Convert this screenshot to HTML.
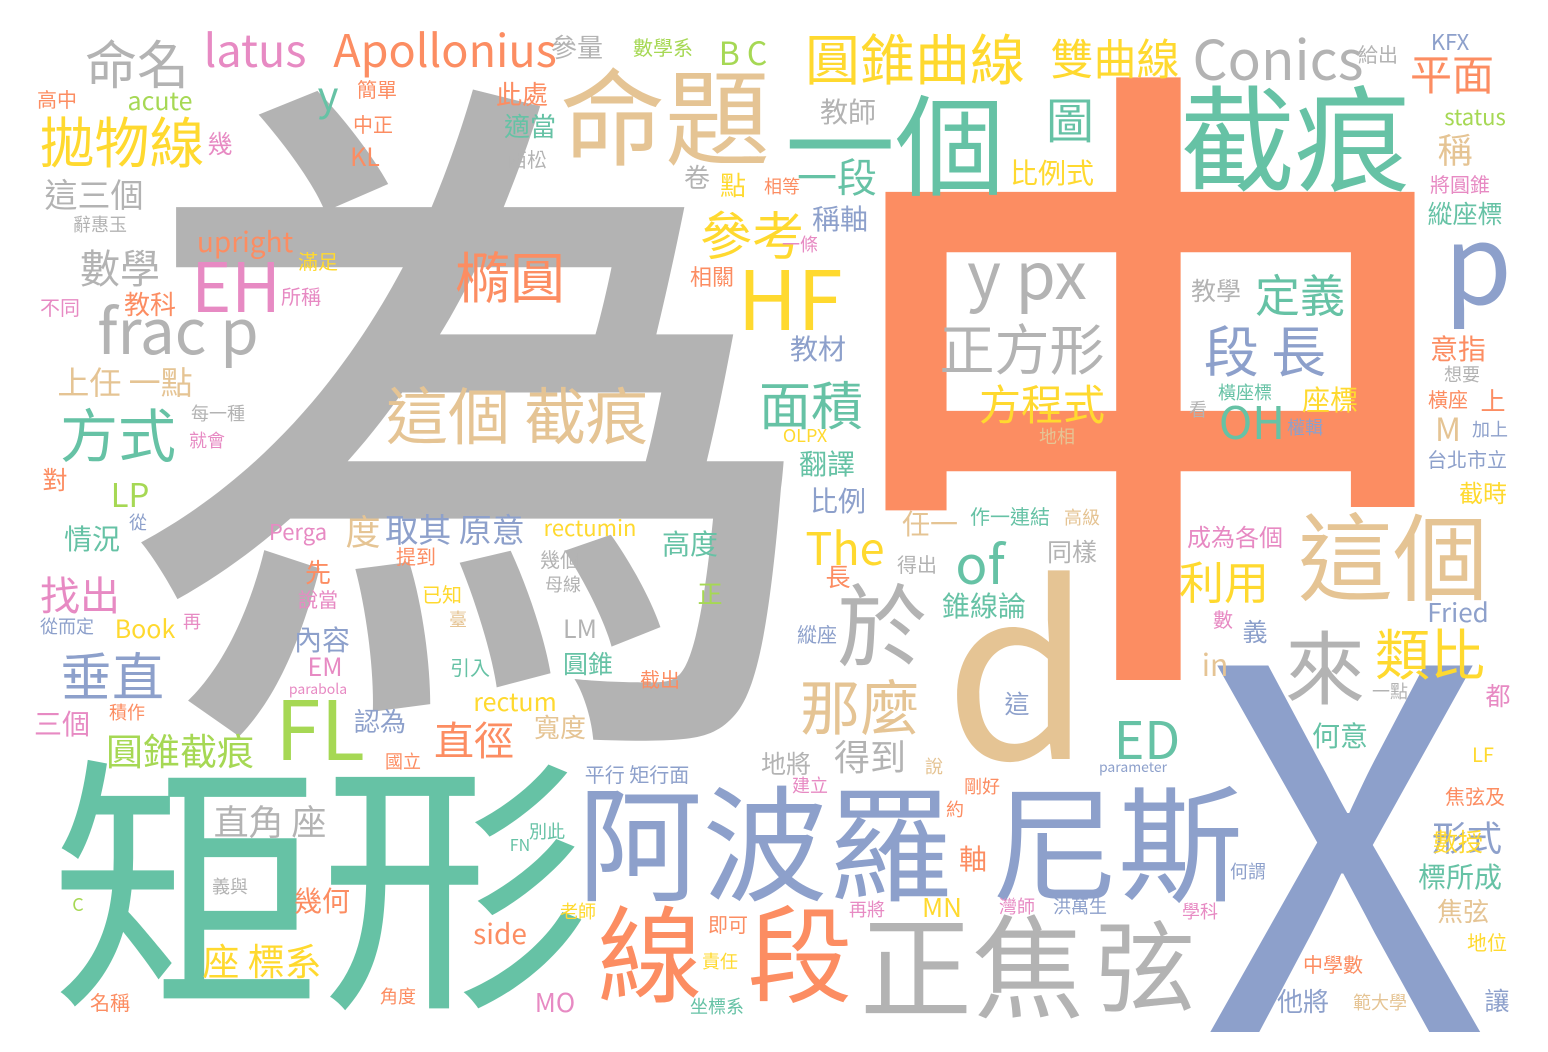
<!DOCTYPE html>
<html>
<head>
<meta charset="utf-8">
<style>
  html,body{margin:0;padding:0;background:#fff;}
  #cloud{position:relative;width:1548px;height:1052px;overflow:hidden;background:#fff;
    font-family:"Noto Sans CJK TC","Liberation Sans",sans-serif;}
  .w{position:absolute;white-space:nowrap;line-height:1;transform:translateX(-50%);}
</style>
</head>
<body>
<div id="cloud"></div>
<script>
const G="#b3b3b3",O="#fc8d62",GR="#66c2a5",B="#8da0cb",T="#e5c494",Y="#ffd92f",LG="#a6d854",P="#e78ac3";
const words=[
["為",475,415,700,G],["中",1150,380,650,O],["X",1345,843,500,B],["d",1018,670,237,T],
["矩形",320,885,270,GR],["阿波羅",765,843,125,B],["尼斯",1118,843,125,B],["正焦",972,967,112,G],
["弦",1145,967,100,G],["線",650,955,105,O],["段",800,955,105,O],["命題",665,118,105,T],
["一個",895,145,110,GR],["截痕",1295,140,115,GR],["p",1478,262,110,B],["這個",1393,558,95,T],
["來",1325,668,80,G],["類比",1430,655,55,Y],["於",882,625,90,G],["那麼",860,708,60,T],
["FL",320,730,82,LG],["HF",790,300,82,Y],["EH",236,287,68,P],["frac p",178,330,62,G],
["拋物線",122,143,55,Y],["方式",118,435,58,GR],["這個 截痕",517,415,62,T],["橢圓",510,278,55,O],
["參考",752,236,52,Y],["圓錐曲線",915,60,55,Y],["雙曲線",1115,60,43,Y],["Conics",1278,60,55,G],
["平面",1452,75,42,O],["命名",137,65,52,G],["latus",255,50,45,P],["Apollonius",445,50,45,O],
["y px",1027,275,65,G],["正方形",1022,350,55,G],["方程式",1042,405,42,Y],["段 長",1265,352,55,B],
["定義",1300,295,45,GR],["教學",1216,292,25,G],["OH",1252,422,45,GR],["座標",1330,401,28,Y],
["面積",811,406,52,GR],["一段",837,177,40,GR],["圖",1070,120,48,GR],["比例式",1052,174,28,Y],
["垂直",112,677,52,B],["找出",80,595,40,P],["圓錐截痕",180,752,37,LG],["座 標系",262,962,37,Y],
["直角 座",270,822,35,G],["直徑",474,740,40,O],["得到",870,757,36,G],["度",363,532,35,T],
["取其 原意",455,530,33,B],["of",980,565,53,GR],["The",845,548,45,Y],["利用",1224,582,45,Y],
["ED",1147,740,52,GR],["形式",1467,838,35,B],["數學",120,268,40,G],["這三個",94,195,33,G],
["上任 一點",125,383,32,T],["LP",130,495,33,LG],["upright",245,243,28,O],["y",328,95,40,GR],
["B C",743,54,32,LG],["acute",160,102,25,LG],["高中",57,100,20,O],["簡單",377,90,20,O],
["此處",522,95,26,O],["參量",577,48,26,G],["數學系",663,48,20,LG],["給出",1378,55,20,G],
["KFX",1450,42,22,B],["status",1475,117,22,LG],["稱",1455,150,35,T],["將圓錐",1460,185,20,P],
["縱座標",1465,215,25,GR],["教師",848,113,28,G],["適當",530,127,26,GR],["西松",527,160,20,G],
["中正",373,125,20,O],["KL",365,158,25,O],["幾",220,145,25,P],["卷",697,178,26,G],
["點",733,186,26,Y],["相等",782,187,18,O],["稱軸",840,220,28,B],["一條",800,245,18,P],
["相關",712,277,22,O],["滿足",318,262,20,Y],["所稱",301,297,20,P],["教科",150,305,26,O],
["不同",60,308,20,P],["辭惠玉",100,225,18,G],["教材",818,350,28,B],["意指",1458,350,28,O],
["想要",1462,375,18,G],["橫座",1448,400,20,O],["上",1493,402,25,O],["M",1448,430,32,T],
["加上",1490,430,18,B],["台北市立",1467,460,20,B],["截時",1483,493,24,Y],["橫座標",1245,393,18,GR],
["權輯",1305,428,18,B],["看",1198,410,18,G],["地相",1057,437,18,T],["OLPX",805,436,18,Y],
["翻譯",827,465,28,GR],["比例",838,502,28,B],["任一",930,525,28,T],["作一連結",1010,517,20,GR],
["高級",1082,518,18,T],["每一種",218,414,18,G],["就會",207,441,18,P],["對",55,481,25,O],
["從",138,523,18,B],["情況",92,540,28,GR],["Perga",298,532,22,P],["rectumin",590,528,22,Y],
["幾個",560,560,20,G],["提到",416,557,20,O],["先",318,573,26,O],["已知",442,595,20,Y],
["母線",563,585,18,G],["高度",690,545,28,GR],["正",710,595,25,LG],["長",838,578,25,O],
["得出",917,565,20,G],["同樣",1072,553,25,G],["成為各個",1235,537,24,P],["說當",318,600,20,P],
["Book",145,630,25,Y],["再",192,622,18,P],["從而定",67,627,18,B],["內容",322,641,28,B],
["臺",458,620,18,T],["LM",580,630,25,G],["圓錐",588,665,25,GR],["引入",470,668,20,GR],
["截出",660,680,20,O],["錐線論",984,607,28,GR],["縱座",817,635,20,B],["數",1223,620,20,P],
["義",1255,633,25,B],["Fried",1458,613,26,B],["in",1215,665,30,T],["都",1498,697,25,P],
["一點",1390,692,18,G],["EM",325,668,25,P],["parabola",318,690,14,P],["三個",62,725,28,P],
["積作",127,713,18,O],["認為",380,722,26,B],["rectum",515,703,25,Y],["寬度",560,728,26,T],
["國立",403,762,18,O],["這",1017,705,25,B],["何意",1340,737,28,GR],["LF",1483,755,20,Y],
["平行 矩行面",637,775,20,B],["地將",786,765,25,G],["說",934,767,18,T],["建立",810,786,18,P],
["剛好",982,787,18,O],["parameter",1133,768,14,B],["焦弦及",1475,797,20,O],["約",955,810,18,O],
["別此",547,832,18,GR],["FN",520,845,16,GR],["軸",973,860,28,O],["數授",1458,843,25,Y],
["何謂",1248,872,18,B],["標所成",1460,878,28,GR],["義與",230,887,18,G],["幾何",322,902,28,O],
["C",78,905,18,LG],["老師",578,912,18,Y],["再將",867,910,18,P],["MN",942,908,26,Y],
["灣師",1017,907,18,P],["洪萬生",1080,907,18,B],["學科",1200,912,18,P],["焦弦",1463,912,26,T],
["side",500,935,28,O],["即可",728,925,20,O],["責任",720,962,18,Y],["地位",1487,943,20,Y],
["中學數",1333,965,20,O],["名稱",110,1003,20,O],["角度",398,997,18,O],["MO",555,1003,26,P],
["坐標系",717,1007,18,GR],["他將",1303,1002,26,B],["範大學",1380,1003,18,T],["讓",1497,1002,25,B]
];
const cloud=document.getElementById('cloud');
words.forEach(function(w,i){
  const el=document.createElement('div');
  el.className='w';
  el.textContent=w[0];
  el.style.left=w[1]+'px';
  el.style.top=(w[2]-0.556*w[3])+'px';
  el.style.fontSize=w[3]+'px';
  el.style.color=w[4];
  if(w[3]>=600){el.style.fontWeight='500';}
  
  
  cloud.appendChild(el);
});
</script>
</body>
</html>
